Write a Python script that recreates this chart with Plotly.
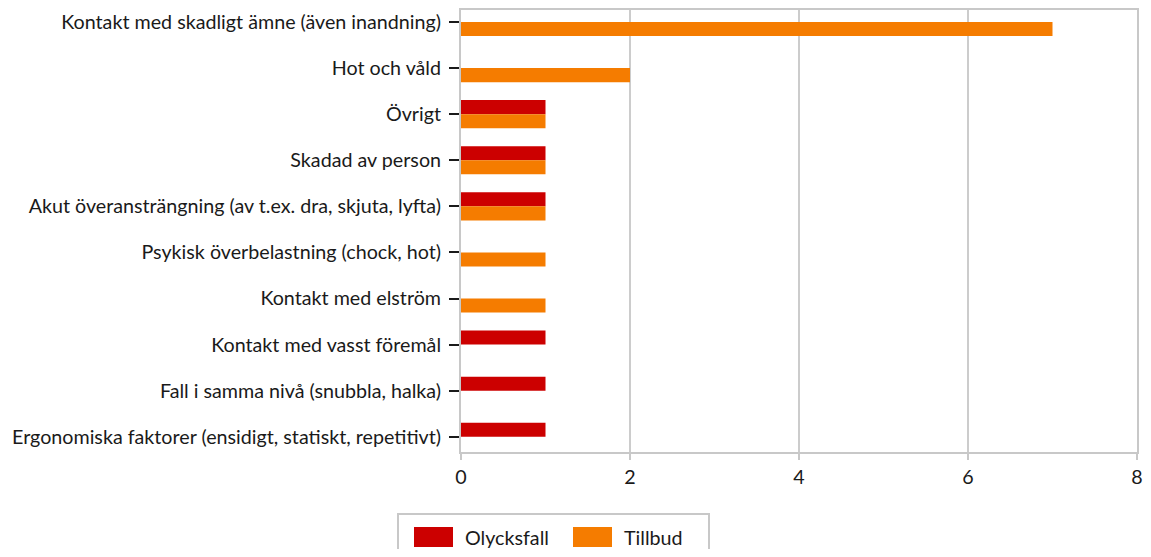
import plotly.graph_objects as go

categories = [
    "Kontakt med skadligt ämne (även inandning)",
    "Hot och våld",
    "Övrigt",
    "Skadad av person",
    "Akut överansträngning (av t.ex. dra, skjuta, lyfta)",
    "Psykisk överbelastning (chock, hot)",
    "Kontakt med elström",
    "Kontakt med vasst föremål",
    "Fall i samma nivå (snubbla, halka)",
    "Ergonomiska faktorer (ensidigt, statiskt, repetitivt)",
]
olycksfall = [0, 0, 1, 1, 1, 0, 0, 1, 1, 1]
tillbud = [7, 2, 1, 1, 1, 1, 1, 0, 0, 0]
x_ticks = [0, 2, 4, 6, 8]
series_names = ["Olycksfall", "Tillbud"]
series_colors = ["#CC0000", "#F57C00"]

FONT = "Lato"
FS = 19.7
OFF = 8  # page body margin
W, H = 1151 - 2 * OFF, 557 - 2 * OFF
ML, MT = 461 - OFF, 10 - OFF
MR = W - (1137 - OFF)
MB = H - (452 - OFF)
PW, PH = W - ML - MR, H - MT - MB


def px(x):
    return (x - OFF - ML) / PW


def py(y):
    return (H - MB - (y - OFF)) / PH


fig = go.Figure()
for name, vals, col in zip(series_names, [olycksfall, tillbud], series_colors):
    fig.add_trace(go.Bar(y=categories, x=vals, name=name, orientation="h",
                         marker=dict(color=col, line=dict(width=0))))

# custom legend (box, swatches, labels)
shapes = [dict(type="rect", xref="paper", yref="paper", x0=px(398), x1=px(709), y0=py(514), y1=py(575),
               line=dict(color="#c8c8c8", width=2), fillcolor="rgba(0,0,0,0)")]
annotations = []
for name, col, sx in zip(series_names, series_colors, [414, 573]):
    shapes.append(dict(type="rect", xref="paper", yref="paper", x0=px(sx), x1=px(sx + 39),
                       y0=py(547), y1=py(527), line=dict(width=0), fillcolor=col))
    annotations.append(dict(xref="paper", yref="paper", x=px(sx + 49), y=py(537), text=name,
                            showarrow=False, xanchor="left", yanchor="middle",
                            font=dict(family=FONT, size=FS, color="#1a1a1a")))

fig.update_layout(
    width=W, height=H,
    barmode="group", bargap=0.39, bargroupgap=0,
    margin=dict(l=ML, r=MR, t=MT, b=MB, autoexpand=False),
    paper_bgcolor="white", plot_bgcolor="white",
    font=dict(family=FONT, size=FS, color="#1a1a1a"),
    showlegend=False,
    shapes=shapes, annotations=annotations,
)
fig.update_xaxes(range=[0, 8], tickvals=x_ticks, showgrid=True, gridcolor="#cccccc", gridwidth=2,
                 showline=True, linecolor="#c8c8c8", linewidth=2, mirror=True,
                 ticks="outside", tickcolor="#c8c8c8", ticklen=6, tickwidth=2,
                 ticklabeloverflow="allow",
                 zeroline=False, fixedrange=True, automargin=False)
fig.update_yaxes(type="category", categoryorder="array", categoryarray=categories,
                 range=[9.33, -0.26], showgrid=False,
                 showline=True, linecolor="#c8c8c8", linewidth=2, mirror=True,
                 ticks="outside", tickcolor="#1a1a1a", ticklen=10, tickwidth=2,
                 ticklabelstandoff=4, fixedrange=True, automargin=False)
fig.write_html("out.html")
